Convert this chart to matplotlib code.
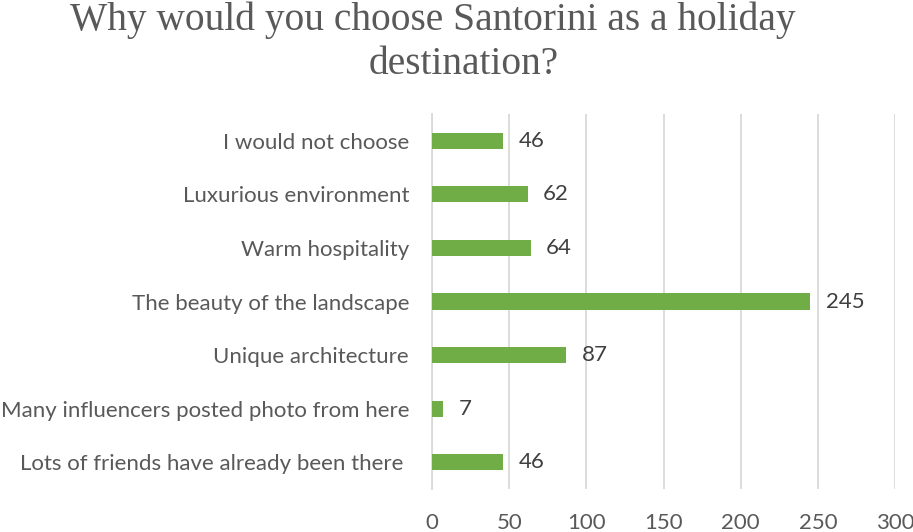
import matplotlib
matplotlib.use("Agg")
import matplotlib.pyplot as plt

categories = [
    "Lots of friends have already been there ",
    "Many influencers posted photo from here",
    "Unique architecture",
    "The beauty of the landscape",
    "Warm hospitality",
    "Luxurious environment",
    "I would not choose",
]
counts = [46, 7, 87, 245, 64, 62, 46]
x_ticks = [0, 50, 100, 150, 200, 250, 300]

label_font = "Lato"
fs = 16
fig = plt.figure(figsize=(9.13, 5.32), dpi=100)
ax = fig.add_axes([0.4732, 0.0808, 0.5071, 0.7049])

pos = list(range(len(categories)))
ax.barh(pos, counts, height=0.3, color="#70AD47", zorder=3)
for p, v in zip(pos, counts):
    ax.text(v + 10, p, str(v), va="center", ha="left", fontsize=fs,
            color="#404040", family=label_font)

ax.set_xlim(0, 300)
ax.set_ylim(-0.5, len(categories) - 0.5)
ax.set_xticks(x_ticks)
ax.set_xticklabels([str(t) for t in x_ticks], fontsize=fs, color="#595959",
                   family=label_font)
ax.set_yticks(pos)
ax.set_yticklabels(categories, fontsize=fs, color="#595959", family=label_font)
ax.tick_params(axis="both", length=0)
ax.tick_params(axis="x", pad=17)
ax.tick_params(axis="y", pad=16.5)
ax.xaxis.grid(True, color="#D9D9D9", linewidth=1.3, zorder=0)
for s in ["top", "right", "bottom"]:
    ax.spines[s].set_visible(False)
ax.spines["left"].set_color("#D9D9D9")
ax.spines["left"].set_linewidth(1.3)

# two-line title, each line placed on its own baseline
title_lines = ["Why would you choose Santorini as a holiday", "destination?"]
title_x = [0.4737, 0.508]
title_y = [0.9436, 0.861]
for line, x, y in zip(title_lines, title_x, title_y):
    fig.text(x, y, line, ha="center", va="baseline", fontsize=28.4,
             color="#595959", family="Liberation Serif")

fig.savefig("out.png", dpi=100)
